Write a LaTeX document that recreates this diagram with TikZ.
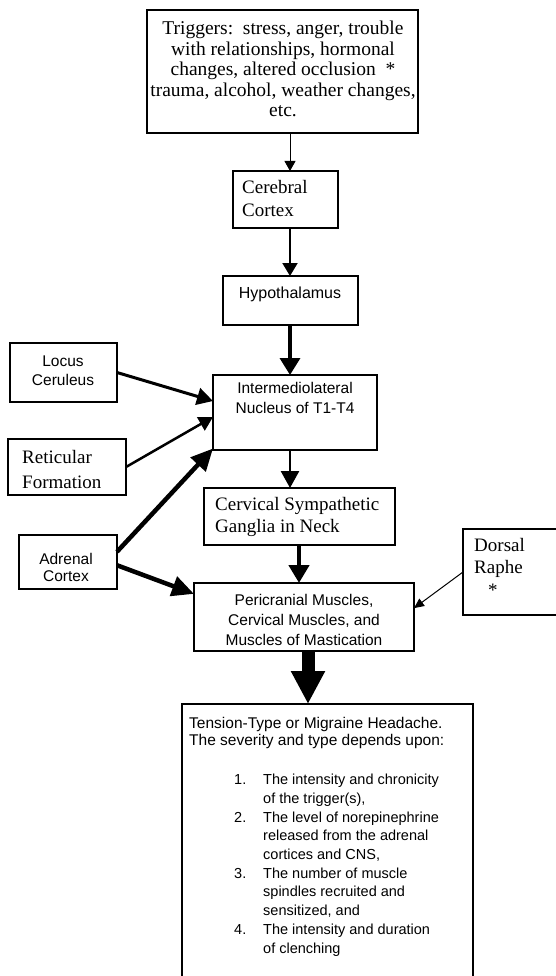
\documentclass[tikz,border=0pt]{standalone}
\usepackage{fontspec}
\setmainfont{Liberation Serif}
\newfontfamily\arialf{Liberation Sans}
\usetikzlibrary{arrows.meta,calc}
\begin{document}
\begin{tikzpicture}[x=1pt,y=-1pt,
  box/.style={draw, line width=1.1pt, inner sep=0pt, outer sep=0pt, rectangle},
  serif/.style={inner sep=0pt, font=\fontsize{18.5}{23}\selectfont},
  sans/.style={inner sep=0pt, font=\arialf\fontsize{15.5}{19}\selectfont},
  arA/.style={line width=1pt, -{Triangle[width=11pt,length=10pt]}},
  arB/.style={line width=2pt, -{Triangle[width=15pt,length=13pt]}},
  arC/.style={line width=3.5pt, -{Triangle[width=20pt,length=17pt]}},
  arD/.style={line width=2.6pt, -{Triangle[width=18pt,length=17pt]}},
  arE/.style={line width=4.5pt, -{Triangle[width=20pt,length=18pt]}},
  arF/.style={line width=13pt, -{Triangle[width=32pt,length=33pt]}},
  arG/.style={line width=3pt, -{Triangle[width=17pt,length=16pt]}},
  arH/.style={line width=2.5pt, -{Triangle[width=15pt,length=14pt]}},
  arI/.style={line width=4.5pt, -{Triangle[width=20pt,length=22pt]}},
  arJ/.style={line width=1pt, -{Triangle[width=9pt,length=10pt]}}
]
\useasboundingbox (0,0) rectangle (556,976);
\fill[white] (0,0) rectangle (556,976);
\clip (0,0) rectangle (556,976);

% column coordinates for vertical connectors
\coordinate (colA) at (290,0);
\coordinate (colB) at (299,0);
\coordinate (colC) at (308,0);

% boxes
\node[box, minimum width=271pt, minimum height=123pt] (trig) at (282.5,71.5) {};
\node[box, minimum width=105pt, minimum height=57pt] (cc) at (285.5,199.5) {};
\node[box, minimum width=135pt, minimum height=49pt] (hyp) at (290.5,300.5) {};
\node[box, minimum width=164pt, minimum height=75pt] (iml) at (295,412.5) {};
\node[box, minimum width=191pt, minimum height=57pt] (csg) at (299.5,516.5) {};
\node[box, minimum width=220pt, minimum height=68pt] (pc) at (304,617) {};
\node[box, minimum width=291pt, minimum height=300pt] (th) at (327.5,854) {};
\node[box, minimum width=107pt, minimum height=59pt] (lc) at (63.5,372.5) {};
\node[box, minimum width=118pt, minimum height=56pt] (rf) at (67,467) {};
\node[box, minimum width=98pt, minimum height=54pt] (ac) at (68,562) {};
\node[box, minimum width=117pt, minimum height=86pt] (dr) at (521.5,572) {};

% texts
\node[serif, align=center, font=\fontsize{19.5}{20.5}\selectfont] (trigtext) at (283,69)
  {Triggers:\ \ stress, anger, trouble\\with relationships, hormonal\\changes, altered occlusion\ \ *\\trauma, alcohol, weather changes,\\etc.};
\node[serif, anchor=west, align=left, font=\fontsize{19}{23}\selectfont] (cctext) at (242,199) {Cerebral\\Cortex};
\node[sans, font=\arialf\fontsize{16}{19}\selectfont] (hyptext) at (290,294.5) {Hypothalamus};
\node[sans, align=center, font=\arialf\fontsize{15.5}{20}\selectfont] (imltext) at (295,397.5) {Intermediolateral\\Nucleus of T1-T4};
\node[serif, anchor=west, align=left, font=\fontsize{19}{22}\selectfont] (csgtext) at (215,517) {Cervical Sympathetic\\Ganglia in Neck};
\node[sans, align=center, font=\arialf\fontsize{15.5}{20}\selectfont] (pctext) at (304,620) {Pericranial Muscles,\\Cervical Muscles, and\\Muscles of Mastication};
\node[sans, align=center] (lctext) at (63,371) {Locus\\Ceruleus};
\node[serif, anchor=west, align=left, font=\fontsize{19}{25}\selectfont] (rftext) at (22,469) {Reticular\\Formation};
\node[sans, align=center, font=\arialf\fontsize{15.5}{17}\selectfont] (actext) at (66,567) {Adrenal\\Cortex};
\node[serif, anchor=west, align=left, font=\fontsize{19}{22.5}\selectfont] (drtext) at (474,567) {Dorsal\\Raphe\\\hspace*{14pt}*};
\node[sans, anchor=north west, align=left, font=\arialf\fontsize{15.5}{17.5}\selectfont] (thhead) at (189,717)
  {Tension-Type or Migraine Headache.\\The severity and type depends upon:};
\node[sans, anchor=north west, align=left, font=\arialf\fontsize{14.5}{18.7}\selectfont] (thlist) at (234,774)
  {\makebox[29pt][l]{1.}The intensity and chronicity\\
   \hspace*{29pt}of the trigger(s),\\
   \makebox[29pt][l]{2.}The level of norepinephrine\\
   \hspace*{29pt}released from the adrenal\\
   \hspace*{29pt}cortices and CNS,\\
   \makebox[29pt][l]{3.}The number of muscle\\
   \hspace*{29pt}spindles recruited and\\
   \hspace*{29pt}sensitized, and\\
   \makebox[29pt][l]{4.}The intensity and duration\\
   \hspace*{29pt}of clenching};

% connectors
\draw[arA] (trig.south -| colA) -- (cc.north -| colA);
\draw[arB] (cc.south -| colA) -- (hyp.north -| colA);
\draw[arC] (hyp.south -| colA) -- (iml.north -| colA);
\draw[arD] (iml.south -| colA) -- (csg.north -| colA);
\draw[arE] (csg.south -| colB) -- (pc.north -| colB);
\draw[arF] (pc.south -| colC) -- (th.north -| colC);
\draw[arG] (lc.east) -- ($(iml.north west)!0.347!(iml.south west)$);
\draw[arH] (rf.east) -- ($(iml.north west)!0.56!(iml.south west)$);
\draw[arI] ($(ac.north east)!0.31!(ac.south east)$) -- ($(iml.north west)!0.98!(iml.south west)$);
\draw[arI] ($(ac.north east)!0.56!(ac.south east)$) -- ($(pc.north west)!0.16!(pc.south west)$);
\draw[arJ] (dr.west) -- ($(pc.north east)!0.37!(pc.south east)$);
\end{tikzpicture}
\end{document}
